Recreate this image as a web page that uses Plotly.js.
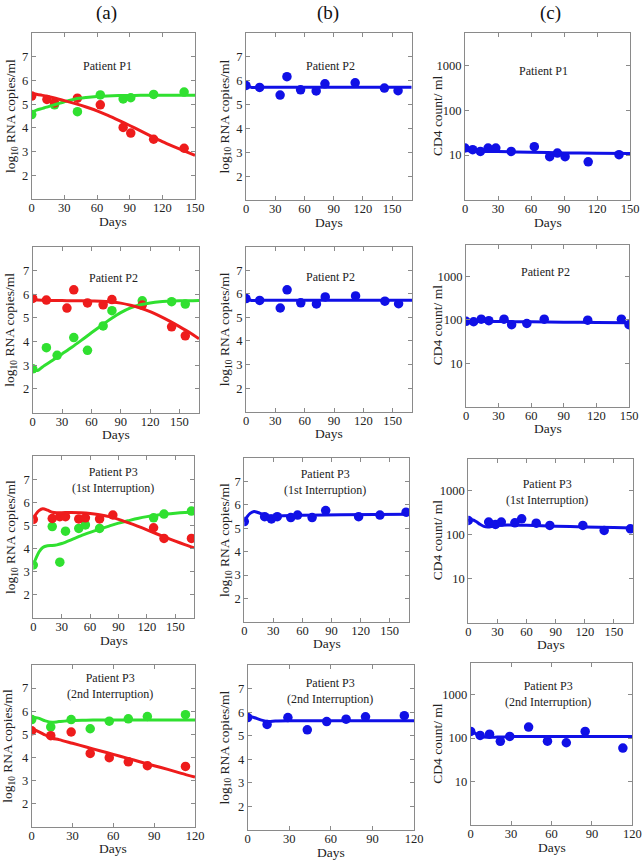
<!DOCTYPE html>
<html>
<head>
<meta charset="utf-8">
<script src="https://cdn.plot.ly/plotly-3.0.1.min.js"></script>
<style>html,body{margin:0;padding:0;background:#fff;}#chart{width:642px;height:861px;}</style>
</head>
<body>
<div id="chart"></div>
<script>
// ---------------- DATA ----------------
// Patient P1 (column a): red / green RNA measurements and fitted curves
const p1_days_red = [0, 14, 21, 42, 63, 84, 91, 112, 140];
const p1_rna_red = [5.34, 5.20, 5.05, 5.25, 4.97, 4.02, 3.78, 3.52, 3.14];
const p1_days_green = [0, 21, 42, 63, 84, 91, 112, 140];
const p1_rna_green = [4.56, 4.97, 4.68, 5.39, 5.22, 5.27, 5.41, 5.51];
const p1_fit_days = [0, 10, 20, 30, 40, 50, 60, 70, 80, 90, 100, 110, 120, 130, 140, 150];
const p1_fit_red = [5.45, 5.37, 5.27, 5.15, 5.02, 4.88, 4.72, 4.53, 4.32, 4.10, 3.87, 3.64, 3.42, 3.22, 3.03, 2.84];
const p1_fit_green_days = [0, 5, 10, 20, 30, 40, 50, 60, 80, 100, 120, 150];
const p1_fit_green = [4.66, 4.76, 4.82, 4.96, 5.10, 5.22, 5.28, 5.32, 5.36, 5.37, 5.38, 5.38];

// Patient P2 (column a)
const p2_days_red = [0, 14, 35, 42, 56, 72, 81, 112, 142, 156];
const p2_rna_red = [5.82, 5.75, 5.41, 6.18, 5.63, 5.55, 5.77, 5.54, 4.62, 4.24];
const p2_days_green = [0, 14, 25, 42, 56, 72, 81, 112, 142, 156];
const p2_rna_green = [2.85, 3.74, 3.42, 4.17, 3.63, 4.66, 5.30, 5.72, 5.68, 5.58];
const p2_fit_days = [0, 5, 10, 20, 30, 40, 50, 60, 70, 80, 90, 100, 110, 120, 130, 140, 150, 160, 170];
const p2_fit_red = [5.78, 5.75, 5.74, 5.73, 5.73, 5.72, 5.72, 5.71, 5.70, 5.67, 5.62, 5.53, 5.41, 5.26, 5.07, 4.86, 4.63, 4.39, 4.12];
const p2_fit_green = [2.80, 2.78, 2.93, 3.20, 3.48, 3.76, 4.06, 4.37, 4.67, 4.96, 5.22, 5.42, 5.55, 5.63, 5.68, 5.70, 5.72, 5.72, 5.73];

// Patient P2 total RNA (column b, rows 1 and 2)
const p2_days_tot = [0, 14, 35, 42, 56, 72, 81, 112, 142, 156];
const p2_rna_tot = [5.80, 5.72, 5.40, 6.17, 5.62, 5.57, 5.87, 5.91, 5.69, 5.58];
const p2_fit_tot_days = [0, 3, 6, 10, 20, 40, 80, 120, 170];
const p2_fit_tot = [5.80, 5.75, 5.72, 5.72, 5.73, 5.73, 5.73, 5.73, 5.73];

// CD4 counts (column c)
const p1_cd4_days = [0, 7, 14, 21, 28, 42, 63, 77, 84, 91, 112, 140];
const p1_cd4 = [14.4, 13.2, 12.1, 14.4, 14.4, 12.1, 15.4, 9.2, 11.1, 9.2, 7.1, 10.2];
const p1_cd4_fit_days = [0, 5, 10, 20, 30, 60, 90, 120, 150];
const p1_cd4_fit = [12.8, 12.3, 12.0, 12.1, 12.0, 11.6, 11.2, 11.0, 10.8];

const p2_cd4_days = [0, 7, 14, 21, 35, 42, 56, 72, 112, 143, 150];
const p2_cd4 = [92, 90, 103, 95, 103, 77, 82, 103, 98, 103, 77];
const p2_cd4_fit_days = [0, 10, 30, 60, 90, 120, 150];
const p2_cd4_fit = [92, 91, 91, 90, 88, 87, 85];

// Patient P3, 1st interruption
const p3a_days_red = [0, 20, 28, 34, 48, 55, 70, 84, 127, 138, 167];
const p3a_rna_red = [5.26, 5.30, 5.38, 5.38, 5.28, 5.33, 5.28, 5.45, 4.90, 4.44, 4.44];
const p3a_days_green = [0, 20, 28, 34, 48, 55, 70, 127, 138, 167];
const p3a_rna_green = [3.29, 4.95, 3.41, 4.75, 4.87, 5.02, 4.87, 5.33, 5.49, 5.62];
const p3a_fit_days = [0, 3, 6, 10, 15, 20, 25, 30, 40, 50, 60, 70, 80, 90, 100, 110, 120, 130, 140, 150, 160, 170];
const p3a_fit_red = [5.30, 5.50, 5.64, 5.72, 5.66, 5.57, 5.55, 5.55, 5.56, 5.55, 5.52, 5.46, 5.38, 5.26, 5.12, 4.97, 4.81, 4.64, 4.48, 4.32, 4.17, 4.03];
const p3a_fit_green = [3.30, 3.60, 3.85, 4.05, 4.12, 4.13, 4.16, 4.22, 4.38, 4.55, 4.70, 4.84, 4.97, 5.10, 5.20, 5.30, 5.38, 5.44, 5.49, 5.53, 5.56, 5.58];
const p3a_days = [0, 21, 28, 34, 48, 55, 70, 84, 118, 140, 167];
const p3a_rna_tot = [5.29, 5.50, 5.40, 5.50, 5.46, 5.57, 5.46, 5.76, 5.50, 5.57, 5.69];
const p3a_fit_tot_days = [0, 3, 6, 10, 14, 20, 30, 40, 60, 100, 170];
const p3a_fit_tot = [5.29, 5.50, 5.64, 5.72, 5.68, 5.58, 5.52, 5.54, 5.56, 5.58, 5.60];
const p3a_cd4 = [210, 193, 171, 193, 186, 229, 183, 162, 162, 125, 136];
const p3a_cd4_fit_days = [0, 4, 8, 12, 16, 20, 25, 30, 40, 60, 90, 120, 150, 170];
const p3a_cd4_fit = [210, 218, 200, 172, 155, 150, 155, 162, 165, 163, 156, 150, 145, 142];

// Patient P3, 2nd interruption
const p3b_days = [0, 14, 29, 43, 57, 71, 85, 113];
const p3b_rna_red = [5.15, 4.94, 5.10, 4.17, 3.99, 3.81, 3.64, 3.61];
const p3b_rna_green = [5.64, 5.32, 5.64, 5.24, 5.57, 5.67, 5.77, 5.85];
const p3b_fit_days = [0, 5, 10, 15, 20, 30, 40, 50, 60, 70, 80, 90, 100, 110, 120];
const p3b_fit_red = [5.25, 5.12, 4.97, 4.83, 4.77, 4.61, 4.45, 4.29, 4.13, 3.97, 3.80, 3.64, 3.48, 3.31, 3.15];
const p3b_fit_green = [5.75, 5.70, 5.58, 5.52, 5.55, 5.60, 5.61, 5.62, 5.62, 5.62, 5.62, 5.62, 5.62, 5.62, 5.62];
const p3b_rna_tot = [5.77, 5.48, 5.77, 5.25, 5.60, 5.70, 5.80, 5.85];
const p3b_fit_tot = [5.85, 5.76, 5.66, 5.60, 5.62, 5.63, 5.63, 5.63, 5.63, 5.63, 5.63, 5.63, 5.63, 5.63, 5.63];
const p3b_cd4_days = [0, 7, 14, 22, 29, 43, 57, 71, 85, 113];
const p3b_cd4 = [142, 115, 123, 84, 109, 179, 85, 78, 142, 59];
const p3b_cd4_fit_days = [0, 3, 6, 10, 15, 20, 30, 60, 90, 120];
const p3b_cd4_fit = [145, 130, 115, 106, 104, 106, 108, 108, 108, 108];

// Text
const colHeaders = ['(a)', '(b)', '(c)'];
const panelTitles = [
  'Patient P1', 'Patient P2', 'Patient P1',
  'Patient P2', 'Patient P2', 'Patient P2',
  'Patient P3<br>(1st Interruption)', 'Patient P3<br>(1st Interruption)', 'Patient P3<br>(1st Interruption)',
  'Patient P3<br>(2nd Interruption)', 'Patient P3<br>(2nd Interruption)', 'Patient P3<br>(2nd Interruption)'
];
const rnaTicks = [2, 3, 4, 5, 6, 7];
const cd4Ticks = [10, 100, 1000];
const dayTicks150 = [0, 30, 60, 90, 120, 150];
const dayTicks120 = [0, 30, 60, 90, 120];
const rnaTitle = 'log<sub>10</sub> RNA copies/ml';
const cd4Title = 'CD4 count/ ml';
const xTitle = 'Days';

// ---------------- STYLE / LAYOUT ----------------
const W = 642, H = 861;
const RED = '#ee1c1c', GREEN = '#30e030', BLUE = '#1010e6';
const FONT = '"Liberation Serif", serif';
const TXT = '#222';
// panel boxes in px: [left, right, top, bottom]
const boxes = [
  [31.7, 195, 33, 199], [246, 411.7, 33, 200], [465, 630, 33, 200],
  [32.7, 199, 246.7, 412.7], [246, 412.3, 246.7, 411.7], [466, 629, 245, 406.7],
  [33.3, 194.3, 456, 618], [244.3, 409, 458.3, 621.7], [468.3, 633.3, 459, 622.7],
  [31.7, 195, 665, 826.7], [247.7, 414, 665, 830], [470.7, 632.3, 663.3, 825]
];
const xMax = [150, 170, 150, 170, 170, 150, 170, 170, 170, 120, 120, 120];
const titlePos = [
  [0.464, 0.803], [0.507, 0.802], [0.475, 0.774],
  [0.485, 0.81], [0.507, 0.815], [0.485, 0.835],
  [0.497, 0.85], [0.49, 0.855], [0.475, 0.80],
  [0.48, 0.872], [0.495, 0.842], [0.48, 0.808]
];
const yTitleX = [11, 225, 437.5];       // px centre of rotated y titles, per column
const xTitleGap = 22;                   // px from axis to centre of "Days"
const headerX = [106.7, 328.3, 550.8];

const traces = [];
function ax(i) { return i === 0 ? '' : String(i + 1); }
function markers(i, x, y, color) {
  traces.push({type: 'scatter', mode: 'markers', x: x, y: y, xaxis: 'x' + ax(i), yaxis: 'y' + ax(i),
    marker: {color: color, size: 9.5, line: {width: 0}}, showlegend: false, hoverinfo: 'x+y'});
}
function curve(i, x, y, color) {
  traces.push({type: 'scatter', mode: 'lines', x: x, y: y, xaxis: 'x' + ax(i), yaxis: 'y' + ax(i),
    line: {color: color, width: 3, shape: 'spline', smoothing: 0.8}, showlegend: false, hoverinfo: 'skip'});
}

// Row 1
markers(0, p1_days_green, p1_rna_green, GREEN); markers(0, p1_days_red, p1_rna_red, RED);
curve(0, p1_fit_green_days, p1_fit_green, GREEN); curve(0, p1_fit_days, p1_fit_red, RED);
markers(1, p2_days_tot, p2_rna_tot, BLUE); curve(1, p2_fit_tot_days, p2_fit_tot, BLUE);
markers(2, p1_cd4_days, p1_cd4, BLUE); curve(2, p1_cd4_fit_days, p1_cd4_fit, BLUE);
// Row 2
markers(3, p2_days_green, p2_rna_green, GREEN); markers(3, p2_days_red, p2_rna_red, RED);
curve(3, p2_fit_days, p2_fit_green, GREEN); curve(3, p2_fit_days, p2_fit_red, RED);
markers(4, p2_days_tot, p2_rna_tot, BLUE); curve(4, p2_fit_tot_days, p2_fit_tot, BLUE);
markers(5, p2_cd4_days, p2_cd4, BLUE); curve(5, p2_cd4_fit_days, p2_cd4_fit, BLUE);
// Row 3
markers(6, p3a_days_green, p3a_rna_green, GREEN); markers(6, p3a_days_red, p3a_rna_red, RED);
curve(6, p3a_fit_days, p3a_fit_green, GREEN); curve(6, p3a_fit_days, p3a_fit_red, RED);
markers(7, p3a_days, p3a_rna_tot, BLUE); curve(7, p3a_fit_tot_days, p3a_fit_tot, BLUE);
markers(8, p3a_days, p3a_cd4, BLUE); curve(8, p3a_cd4_fit_days, p3a_cd4_fit, BLUE);
// Row 4
markers(9, p3b_days, p3b_rna_green, GREEN); markers(9, p3b_days, p3b_rna_red, RED);
curve(9, p3b_fit_days, p3b_fit_green, GREEN); curve(9, p3b_fit_days, p3b_fit_red, RED);
markers(10, p3b_days, p3b_rna_tot, BLUE); curve(10, p3b_fit_days, p3b_fit_tot, BLUE);
markers(11, p3b_cd4_days, p3b_cd4, BLUE); curve(11, p3b_cd4_fit_days, p3b_cd4_fit, BLUE);

const layout = {
  width: W, height: H, margin: {l: 0, r: 0, t: 0, b: 0},
  paper_bgcolor: '#fff', plot_bgcolor: '#fff',
  font: {family: FONT, color: TXT, size: 12, weight: 'normal'},
  showlegend: false, annotations: []
};
const axBase = {
  showline: true, linecolor: '#8a8a8a', linewidth: 1, mirror: 'ticks',
  ticks: 'inside', ticklen: 4, tickcolor: '#8a8a8a', tickwidth: 1,
  showgrid: false, zeroline: false, fixedrange: true,
  tickfont: {family: FONT, size: 12.5, color: TXT, weight: 'normal'}
};
const titleFont = {family: FONT, size: 13.5, color: TXT, weight: 'normal'};
boxes.forEach((b, i) => {
  const col = i % 3;
  const xd = [b[0] / W, b[1] / W];
  const yd = [1 - b[3] / H, 1 - b[2] / H];
  layout['xaxis' + ax(i)] = Object.assign({}, axBase, {
    domain: xd, anchor: 'y' + ax(i), range: [0, xMax[i]],
    tickvals: xMax[i] === 120 ? dayTicks120 : dayTicks150,
    ticklabelstandoff: -3
  });
  const yx = col === 2 ? {
    type: 'log', range: [0, 3.72], tickvals: cd4Ticks, ticktext: cd4Ticks.map(String)
  } : {
    range: [1, 8], tickvals: rnaTicks
  };
  layout['yaxis' + ax(i)] = Object.assign({}, axBase, {domain: yd, anchor: 'x' + ax(i)}, yx);
  // panel title
  layout.annotations.push({
    text: panelTitles[i], xref: 'x' + ax(i) + ' domain', yref: 'y' + ax(i) + ' domain',
    x: titlePos[i][0], y: titlePos[i][1], xanchor: 'center', yanchor: 'middle',
    showarrow: false, font: {family: FONT, size: 12, color: TXT, weight: 'normal'}
  });
  // x axis title
  layout.annotations.push({
    text: xTitle, xref: 'x' + ax(i) + ' domain', yref: 'paper',
    x: 0.5, y: 1 - (b[3] + xTitleGap) / H, xanchor: 'center', yanchor: 'middle',
    showarrow: false, font: titleFont
  });
  // y axis title
  layout.annotations.push({
    text: col === 2 ? cd4Title : rnaTitle, xref: 'paper', yref: 'y' + ax(i) + ' domain',
    x: (yTitleX[col] - (i === 9 ? 2 : 0)) / W, y: 0.5, xanchor: 'center', yanchor: 'middle',
    textangle: -90, showarrow: false, font: titleFont
  });
});
colHeaders.forEach((t, k) => {
  layout.annotations.push({
    text: t, xref: 'paper', yref: 'paper', x: headerX[k] / W, y: 1 - 13 / H,
    xanchor: 'center', yanchor: 'middle', showarrow: false,
    font: {family: FONT, size: 19, color: '#111', weight: 'normal'}
  });
});

Plotly.newPlot('chart', traces, layout, {staticPlot: true, displayModeBar: false});
</script>
</body>
</html>
